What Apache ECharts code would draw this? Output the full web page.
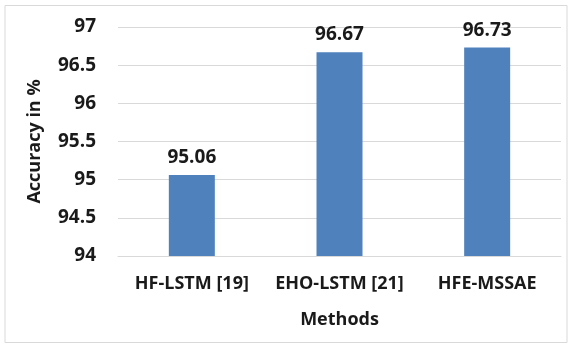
<!DOCTYPE html>
<html>
<head>
<meta charset="utf-8">
<script src="https://cdn.jsdelivr.net/npm/echarts@6/dist/echarts.min.js"></script>
<style>
  html, body { margin: 0; padding: 0; background: #fff; }
  #chart { width: 572px; height: 347px; }
</style>
</head>
<body>
<div id="chart"></div>
<script>
const methods = ['HF-LSTM [19]', 'EHO-LSTM [21]', 'HFE-MSSAE']
const accuracy = [95.06, 96.67, 96.73]

const font = '"Open Sans", "Liberation Sans", sans-serif'
const chart = echarts.init(document.getElementById('chart'))

const option = {
  animation: false,
  graphic: [{
    type: 'rect',
    shape: { x: 5, y: 5.5, width: 562, height: 337 },
    style: { fill: 'none', stroke: '#d9d9d9', lineWidth: 1 }
  }],
  grid: { left: 118, right: 11, top: 27, bottom: 91 },
  xAxis: {
    type: 'category',
    data: methods,
    name: 'Methods',
    nameLocation: 'middle',
    nameGap: 55,
    nameTextStyle: { fontFamily: font, fontWeight: 'bold', fontSize: 18, color: '#1a1a1a' },
    axisLine: { lineStyle: { color: '#d9d9d9' } },
    axisTick: { show: false },
    axisLabel: { fontFamily: font, fontWeight: 'bold', fontSize: 18, color: '#1a1a1a', margin: 19, interval: 0 }
  },
  yAxis: {
    type: 'value',
    min: 94,
    max: 97,
    interval: 0.5,
    name: 'Accuracy in %',
    nameLocation: 'middle',
    nameGap: 74,
    nameTextStyle: { fontFamily: font, fontWeight: 'bold', fontSize: 18, color: '#1a1a1a' },
    axisLine: { show: false },
    axisTick: { show: false },
    axisLabel: { fontFamily: font, fontWeight: 'bold', fontSize: 19, color: '#1a1a1a', margin: 22 },
    splitLine: { lineStyle: { color: '#d9d9d9' } }
  },
  series: [{
    type: 'bar',
    data: accuracy,
    barWidth: 46,
    itemStyle: { color: '#4f81bd' },
    label: {
      show: true,
      position: 'top',
      distance: 8,
      fontFamily: font,
      fontWeight: 'bold',
      fontSize: 19,
      color: '#1a1a1a'
    }
  }]
}

chart.setOption(option)
</script>
</body>
</html>
